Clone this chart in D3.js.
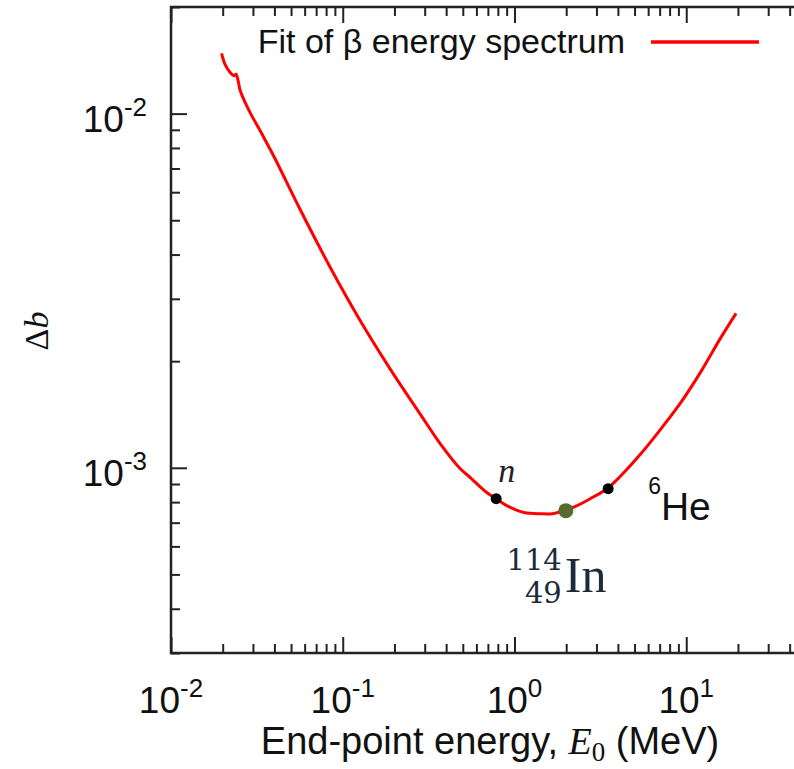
<!DOCTYPE html>
<meta charset="utf-8">
<style>
body{
  margin: 0;
  background: white;
}
svg{
  display: block;
  font-family: "Liberation Sans", Arial, Helvetica, sans-serif;
}
.tick line{
  stroke: #222;
  stroke-width: 2px;
}
.serif{
  font-family: "Liberation Serif", "Times New Roman", serif;
}
</style>
<body>
<div id="chart"></div>
<script src="https://cdn.jsdelivr.net/npm/d3@7"></script>
<script>
// end-point energy E0 (MeV) and delta b
var energy = [0.0197, 0.0206, 0.0221, 0.0233, 0.0239, 0.0247, 0.0252, 0.0270, 0.0295,
  0.0330, 0.0361, 0.0403, 0.0564, 0.0843, 0.126, 0.189, 0.282, 0.369, 0.482, 0.551,
  0.631, 0.693, 0.781, 0.881, 1.01, 1.15, 1.41, 1.66, 1.95, 2.25, 2.76, 3.46, 4.12,
  5.39, 7.05, 9.22, 12.1, 15.8, 19.5]
var deltaB = [0.01479, 0.01380, 0.01307, 0.01279, 0.01292, 0.01226, 0.01168, 0.01076, 0.00987,
  0.00896, 0.00826, 0.00747, 0.00537, 0.00369, 0.00261, 0.00190, 0.00142, 0.00117, 0.000995, 0.000940,
  0.000884, 0.000850, 0.000818, 0.000787, 0.000762, 0.000747, 0.000742, 0.000742, 0.000757, 0.000777, 0.000818, 0.000873, 0.000945,
  0.00109, 0.00128, 0.00152, 0.00186, 0.00232, 0.00273]

// marked nuclei
var nuclei = ['n', '114In', '6He']
var nucleiE = [0.782, 1.99, 3.51]
var nucleiB = [0.000818, 0.000757, 0.000873]

var xMajor = [1e-2, 1e-1, 1, 10, 100]
var xTickLabels = ['-2', '-1', '0', '1']
var yMajor = [1e-3, 1e-2]
var yTickLabels = ['-3', '-2']
var legendLabel = 'Fit of \u03b2 energy spectrum'

var width = 794, height = 769
var plotL = 171, plotT = 7, plotR = 858, plotB = 653

var x = d3.scaleLog().domain([1e-2, 1e2]).range([plotL, plotR])
var y = d3.scaleLog().domain([3e-4, 2e-2]).range([plotB, plotT])

function minors(lo, hi){
  var out = []
  for (var p = lo; p < hi; p++)
    for (var m = 2; m <= 9; m++) out.push(m * Math.pow(10, p))
  return out
}
var xMinor = minors(-2, 2)
var yMinor = minors(-4, -1).filter(function(v){ return v >= 3e-4 && v <= 2e-2 })

var svg = d3.select('#chart').append('svg')
    .attr('width', width)
    .attr('height', height)

// ticks, inward on bottom/top/left
function ticks(axis, vals, size, tr){
  var g = svg.append('g').attr('transform', tr)
    .call(axis.tickValues(vals).tickSize(size).tickSizeOuter(0).tickFormat(''))
  g.select('.domain').remove()
}
ticks(d3.axisBottom(x), xMajor, -16, 'translate(0,' + plotB + ')')
ticks(d3.axisBottom(x), xMinor, -9, 'translate(0,' + plotB + ')')
ticks(d3.axisTop(x), xMajor, -16, 'translate(0,' + plotT + ')')
ticks(d3.axisTop(x), xMinor, -9, 'translate(0,' + plotT + ')')
ticks(d3.axisLeft(y), yMajor, -16, 'translate(' + plotL + ',0)')
ticks(d3.axisLeft(y), yMinor, -9, 'translate(' + plotL + ',0)')

svg.append('rect')
    .attr('x', plotL).attr('y', plotT)
    .attr('width', plotR - plotL).attr('height', plotB - plotT)
    .attr('fill', 'none')
    .attr('stroke', '#222')
    .attr('stroke-width', 2.5)

// tick labels 10^k
var xl = svg.selectAll('.xlab').data(xTickLabels).enter().append('text')
    .attr('x', function(d, i){ return x(xMajor[i]) })
    .attr('y', 713)
    .attr('text-anchor', 'middle')
    .attr('font-size', 37)
    .attr('fill', '#111')
xl.append('tspan').text('10')
xl.append('tspan').attr('dy', -16).attr('font-size', 26).text(function(d){ return d })

var yl = svg.selectAll('.ylab').data(yTickLabels).enter().append('text')
    .attr('x', 147)
    .attr('y', function(d, i){ return y(yMajor[i]) + 18 })
    .attr('text-anchor', 'end')
    .attr('font-size', 37)
    .attr('fill', '#111')
yl.append('tspan').text('10')
yl.append('tspan').attr('dy', -16).attr('font-size', 26).text(function(d){ return d })

// axis titles
var xt = svg.append('text')
    .attr('x', 490).attr('y', 754)
    .attr('text-anchor', 'middle')
    .attr('font-size', 38)
    .attr('fill', '#111')
xt.append('tspan').text('End-point energy, ')
xt.append('tspan').attr('class', 'serif').attr('font-style', 'italic').text('E')
xt.append('tspan').attr('class', 'serif').attr('font-size', 27).attr('dy', 7).text('0')
xt.append('tspan').attr('dy', -7).text(' (MeV)')

var yt = svg.append('text')
    .attr('class', 'serif')
    .attr('transform', 'translate(48,331) rotate(-90)')
    .attr('text-anchor', 'middle')
    .attr('font-size', 34)
    .attr('fill', '#111')
yt.append('tspan').text('\u0394')
yt.append('tspan').attr('font-style', 'italic').text('b')

// curve
var line = d3.line()
    .x(function(d){ return x(d[0]) })
    .y(function(d){ return y(d[1]) })
    .curve(d3.curveCatmullRom)

svg.append('path')
    .datum(d3.zip(energy, deltaB))
    .attr('d', line)
    .attr('fill', 'none')
    .attr('stroke', '#ff0000')
    .attr('stroke-width', 3)
    .attr('stroke-linejoin', 'round')

// legend
svg.append('text')
    .attr('x', 625).attr('y', 53)
    .attr('text-anchor', 'end')
    .attr('font-size', 34)
    .attr('fill', '#111')
    .text(legendLabel)
svg.append('line')
    .attr('x1', 651).attr('x2', 759)
    .attr('y1', 42).attr('y2', 42)
    .attr('stroke', '#ff0000')
    .attr('stroke-width', 3.5)

// points
svg.selectAll('.pt').data(nuclei).enter().append('circle')
    .attr('cx', function(d, i){ return x(nucleiE[i]) })
    .attr('cy', function(d, i){ return y(nucleiB[i]) })
    .attr('r', function(d){ return d == '114In' ? 7.5 : 5.5 })
    .attr('fill', function(d){ return d == '114In' ? '#556b2f' : '#000' })

// point labels
var nx = x(nucleiE[0]), ny = y(nucleiB[0])
svg.append('text')
    .attr('class', 'serif')
    .attr('x', nx + 2).attr('y', ny - 17)
    .attr('font-size', 34)
    .attr('font-style', 'italic')
    .attr('fill', '#222')
    .text('n')

var hx = x(nucleiE[2]), hy = y(nucleiB[2])
var he = svg.append('text')
    .attr('x', hx + 40).attr('y', hy + 31)
    .attr('font-size', 39)
    .attr('fill', '#111')
he.append('tspan').attr('font-size', 23).attr('dy', -26).text('6')
he.append('tspan').attr('dy', 26).text('He')

var ix = x(nucleiE[1]), iy = y(nucleiB[1])
var inG = svg.append('g').attr('fill', '#1c2b3a')
inG.append('text')
    .attr('x', ix - 4).attr('y', iy + 59)
    .attr('text-anchor', 'end')
    .attr('font-family', '"DejaVu Serif", serif')
    .attr('font-size', 29)
    .text('114')
inG.append('text')
    .attr('x', ix - 4).attr('y', iy + 92)
    .attr('text-anchor', 'end')
    .attr('font-family', '"DejaVu Serif", serif')
    .attr('font-size', 29)
    .text('49')
inG.append('text')
    .attr('class', 'serif')
    .attr('x', ix - 1).attr('y', iy + 81)
    .attr('font-size', 50)
    .text('In')
</script>
</body>
